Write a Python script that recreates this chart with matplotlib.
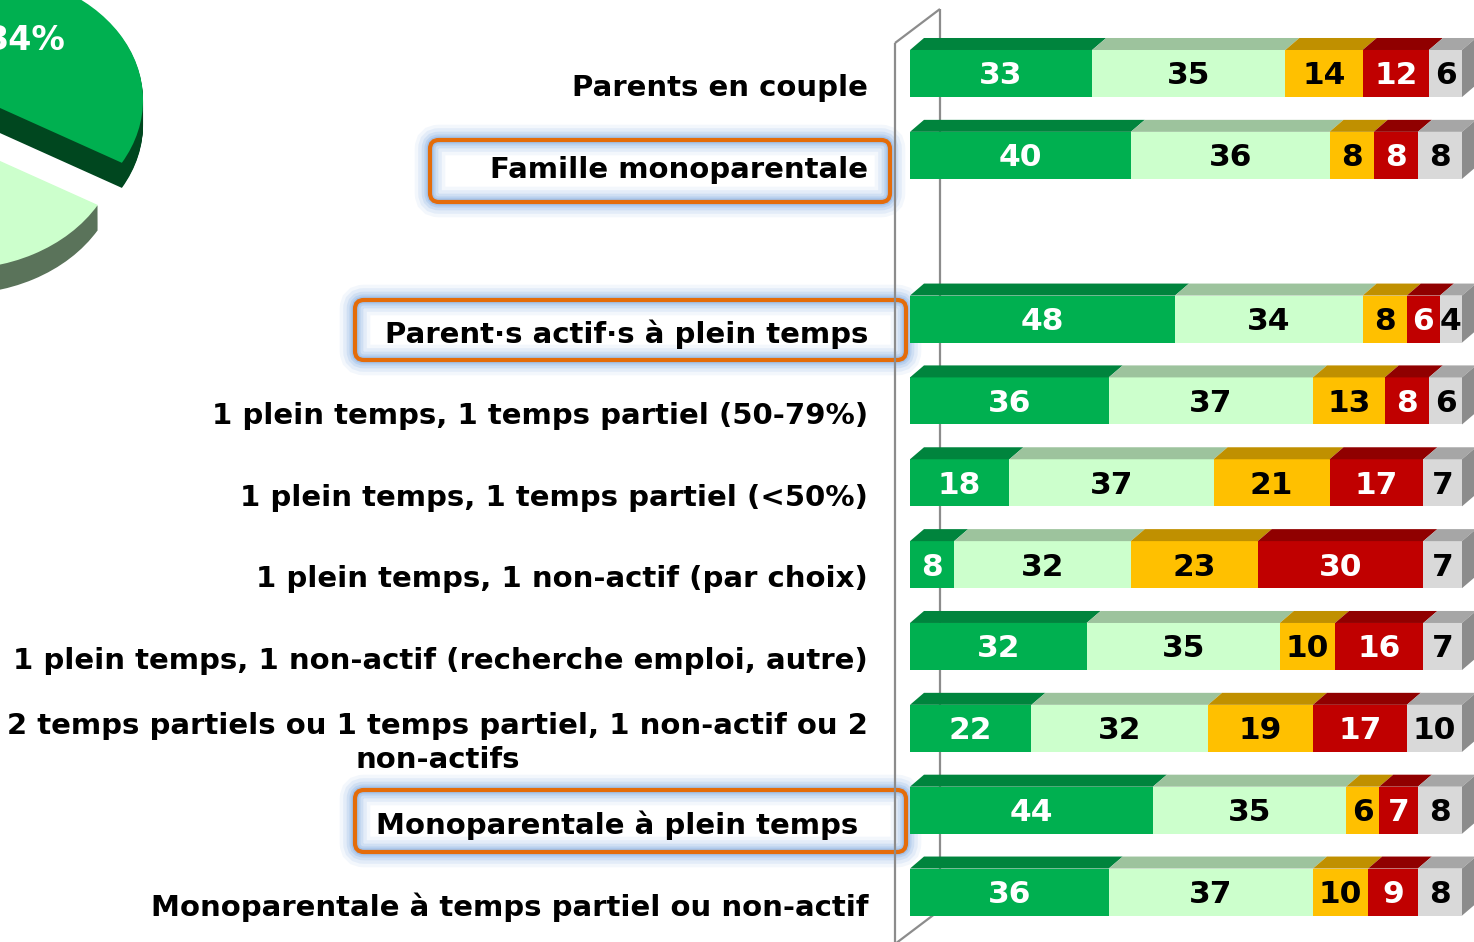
import matplotlib.pyplot as plt
from matplotlib.patches import Polygon, FancyBboxPatch

# categories (top to bottom); slot 2 is left empty in the chart
categories = [
    "Parents en couple",
    "Famille monoparentale",
    "Parent·s actif·s à plein temps",
    "1 plein temps, 1 temps partiel (50-79%)",
    "1 plein temps, 1 temps partiel (<50%)",
    "1 plein temps, 1 non-actif (par choix)",
    "1 plein temps, 1 non-actif (recherche emploi, autre)",
    "2 temps partiels ou 1 temps partiel, 1 non-actif ou 2\nnon-actifs",
    "Monoparentale à plein temps",
    "Monoparentale à temps partiel ou non-actif",
]
slots = [0, 1, 3, 4, 5, 6, 7, 8, 9, 10]

vert = [33, 40, 48, 36, 18, 8, 32, 22, 44, 36]
vert_clair = [35, 36, 34, 37, 37, 32, 35, 32, 35, 37]
jaune = [14, 8, 8, 13, 21, 23, 10, 19, 6, 10]
rouge = [12, 8, 6, 8, 17, 30, 16, 17, 7, 9]
gris = [6, 8, 4, 6, 7, 7, 7, 10, 8, 8]
series = [vert, vert_clair, jaune, rouge, gris]

pie_values = [34, 36, 12, 11, 7]

front_colors = ['#00B050', '#CCFFCC', '#FFC000', '#C00000', '#D9D9D9']
top_colors = ['#00843D', '#9DC39D', '#C09000', '#900000', '#A6A6A6']
text_colors = ['white', 'black', 'black', 'white', 'black']
side_color = '#8C8C8C'

W, H = 1474, 942
fig = plt.figure(figsize=(W / 100, H / 100), dpi=100)

# overlay in pixel coords for the frame and the highlight boxes
ov = fig.add_axes([0, 0, 1, 1])
ov.set_xlim(0, W)
ov.set_ylim(H, 0)
ov.axis('off')
ov.set_zorder(0)


def glow_box(x0, y0, x1, y1):
    for lw, a in [(22, 0.07), (17, 0.1), (12, 0.14), (8, 0.18), (5, 0.25)]:
        ov.add_patch(FancyBboxPatch((x0, y0), x1 - x0, y1 - y0,
                                    boxstyle='round,pad=0,rounding_size=9',
                                    fill=False, ec='#5B93DA', lw=lw, alpha=a))
    ov.add_patch(FancyBboxPatch((x0, y0), x1 - x0, y1 - y0,
                                boxstyle='round,pad=0,rounding_size=9',
                                fill=False, ec='#E46C0A', lw=3))


glow_box(430, 140, 890, 202)
glow_box(355, 300, 906, 360)
glow_box(355, 790, 906, 852)

# floor / wall frame
wall = dict(color='#8C8C8C', lw=1.6, solid_capstyle='butt')
ov.plot([895, 895], [43, H], **wall)
ov.plot([895, 940], [43, 9], **wall)
ov.plot([940, 940], [9, 910], **wall)
ov.plot([940, 895], [910, 944], **wall)

# pie (3D look by stacking darker layers)
pax = fig.add_axes([-0.2448, 0.6136, 0.4369, 0.5393])
pax.set_zorder(1)
pie_top = ['#00B050', '#CCFFCC', '#FFC000', '#C00000', '#D9D9D9']
pie_side = ['#00471F', '#5A735A', '#8C6A00', '#600000', '#7F7F7F']
explode = [0.152, 0.253, 0, 0, 0]
n_layers = 26
for k in range(n_layers, 0, -1):
    pax.pie(pie_values, colors=pie_side, explode=explode, startangle=92.7,
            counterclock=False, center=(0, -k * 0.0076),
            wedgeprops=dict(linewidth=0))
pax.pie(pie_values, colors=pie_top, explode=explode, startangle=92.7,
        counterclock=False, wedgeprops=dict(linewidth=0))
pax.set_aspect('auto')
pax.set_xlim(-2, 2)
pax.set_ylim(-2, 2)
pax.axis('off')
pax.text(0.65, 0.55, f"{pie_values[0]}%", ha='right', va='center',
         color='white', fontsize=24, fontweight='bold')

# stacked bars
ax = fig.add_axes([910 / W, 1 - 933 / H, 552 / W, 900.4 / H])
ax.set_zorder(2)
ax.patch.set_visible(False)
ax.set_xlim(0, 100)
ax.set_ylim(10.5, -0.5)
ax.axis('off')

h = 0.575
dx = 14 / 5.52
dy = 12 / 81.85

lefts = [0] * len(slots)
for j, vals in enumerate(series):
    ax.barh(slots, vals, left=lefts, height=h, color=front_colors[j], lw=0)
    for i, s in enumerate(slots):
        x0 = lefts[i]
        x1 = x0 + vals[i]
        yt = s - h / 2
        ax.add_patch(Polygon([(x0, yt), (x1, yt), (x1 + dx, yt - dy), (x0 + dx, yt - dy)],
                             closed=True, color=top_colors[j], lw=0, clip_on=False))
        ax.text((x0 + x1) / 2, s + 0.03, str(vals[i]), ha='center', va='center',
                color=text_colors[j], fontsize=22.5, fontweight='bold')
    lefts = [lefts[i] + vals[i] for i in range(len(slots))]

for i, s in enumerate(slots):
    x1 = lefts[i]
    yt = s - h / 2
    ax.add_patch(Polygon([(x1, yt), (x1, yt + h), (x1 + dx, yt + h - dy), (x1 + dx, yt - dy)],
                         closed=True, color=side_color, lw=0, clip_on=False))

for i, s in enumerate(slots):
    xr = -9.4 if categories[i] == "Monoparentale à plein temps" else -7.6
    ax.text(xr, s + 0.18, categories[i], ha='right', va='center',
            multialignment='center', linespacing=1.3,
            fontsize=21, fontweight='bold', clip_on=False)

fig.savefig('out.png', dpi=100)
